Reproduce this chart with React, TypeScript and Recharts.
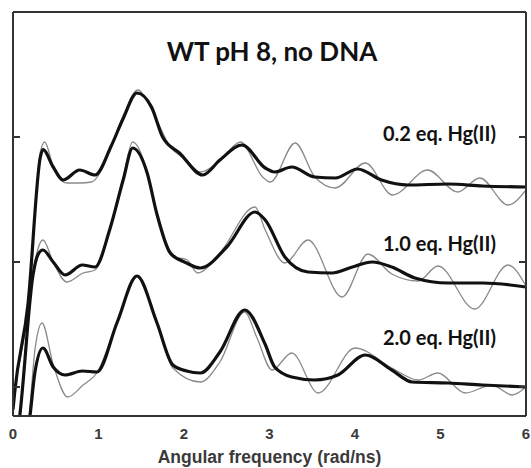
import { LineChart, Line, XAxis, YAxis, Label } from 'recharts'

// x = angular frequency (rad/ns), y = offset spectra (arb. units)
const thick02: [number, number][] = [
  [0, -0.18], [0.02, -0.04], [0.175, 0.66], [0.32, 1.84], [0.35, 1.9], [0.47, 1.76],
  [0.585, 1.656], [0.78, 1.736], [0.96, 1.696], [1.15, 1.93], [1.29, 2.15], [1.45, 2.352],
  [1.62, 2.24], [1.75, 2.0], [1.95, 1.87], [2.22, 1.696], [2.42, 1.816], [2.68, 1.936],
  [2.95, 1.752], [3.06, 1.72], [3.26, 1.76], [3.53, 1.68], [3.77, 1.672], [4.03, 1.744],
  [4.31, 1.656], [4.62, 1.616], [5.09, 1.624], [5.49, 1.608], [6, 1.6],
]
const thin02: [number, number][] = [
  [0, -0.2], [0.02, -0.06], [0.175, 0.62], [0.32, 1.88], [0.37, 1.96], [0.48, 1.74],
  [0.63, 1.632], [0.78, 1.632], [0.92, 1.64], [1.15, 1.93], [1.29, 2.17], [1.46, 2.376],
  [1.62, 2.22], [1.84, 1.92], [1.99, 1.832], [2.19, 1.72], [2.42, 1.81], [2.66, 1.96],
  [2.92, 1.68], [3.01, 1.64], [3.3, 1.952], [3.53, 1.68], [3.77, 1.592], [4.12, 1.792],
  [4.44, 1.536], [4.85, 1.736], [5.2, 1.56], [5.46, 1.672], [5.79, 1.456], [6, 1.576],
]
const thick10: [number, number][] = [
  [0, -0.6], [0.08, -0.224], [0.234, 0.896], [0.29, 1.056], [0.35, 1.096], [0.47, 1.0],
  [0.61, 0.896], [0.81, 0.976], [0.96, 0.96], [1.13, 1.256], [1.29, 1.66], [1.4, 1.912],
  [1.57, 1.71], [1.68, 1.392], [1.84, 1.072], [2.03, 0.992], [2.19, 0.952], [2.5, 1.12],
  [2.83, 1.4], [2.95, 1.336], [3.18, 1.04], [3.45, 0.92], [3.73, 0.912], [3.97, 0.96],
  [4.2, 1.0], [4.43, 0.96], [4.7, 0.872], [5.09, 0.832], [5.49, 0.832], [6, 0.8],
]
const thin10: [number, number][] = [
  [0, -0.65], [0.08, -0.26], [0.234, 0.9], [0.29, 1.1], [0.35, 1.176], [0.47, 1.0],
  [0.63, 0.84], [0.82, 0.912], [0.96, 0.936], [1.13, 1.256], [1.29, 1.68], [1.4, 1.96],
  [1.57, 1.72], [1.68, 1.39], [1.87, 1.04], [2.03, 1.02], [2.16, 0.912], [2.42, 1.072],
  [2.83, 1.44], [2.95, 1.256], [3.18, 0.992], [3.45, 1.176], [3.85, 0.72], [4.15, 1.064],
  [4.43, 0.904], [4.74, 0.848], [4.97, 0.968], [5.4, 0.624], [5.79, 0.976], [6, 0.808],
]
const thick20: [number, number][] = [
  [0, -1.2], [0.1, -0.74], [0.2, -0.224], [0.257, 0.12], [0.35, 0.312], [0.47, 0.16],
  [0.61, 0.096], [0.81, 0.128], [0.98, 0.12], [1.22, 0.52], [1.45, 0.888], [1.68, 0.52],
  [1.87, 0.176], [2.03, 0.128], [2.19, 0.112], [2.42, 0.28], [2.71, 0.616], [2.95, 0.34],
  [3.06, 0.16], [3.26, 0.08], [3.53, 0.056], [3.8, 0.096], [4.12, 0.256], [4.43, 0.136],
  [4.67, 0.04], [5.09, 0.032], [5.49, 0.016], [6, 0],
]
const thin20: [number, number][] = [
  [0, -1.3], [0.1, -0.8], [0.2, -0.15], [0.257, 0.3], [0.34, 0.512], [0.47, 0.18],
  [0.64, -0.08], [0.82, 0.016], [0.98, 0.112], [1.22, 0.52], [1.45, 0.888], [1.68, 0.52],
  [1.87, 0.152], [2.19, 0.04], [2.42, 0.2], [2.71, 0.6], [2.85, 0.4], [3.03, 0.136],
  [3.26, 0.272], [3.57, -0.048], [4.0, 0.312], [4.43, 0.152], [4.74, 0.056], [4.97, 0.112],
  [5.29, -0.048], [5.6, 0.016], [5.84, -0.064], [6, 0],
]

const xTicks = [0, 1, 2, 3, 4, 5, 6]
const innerTicks = [1, 2, 3, 4, 5]
const yTicks = [0, 1, 2]
const labels = ['0.2 eq. Hg(II)', '1.0 eq. Hg(II)', '2.0 eq. Hg(II)']

const LABEL_FONT = 'Lato, "Open Sans", sans-serif'
const AXIS_FONT = '"Liberation Sans", Arial, sans-serif'
const AXIS = '#333'

const toRows = (pts: [number, number][]) => pts.map(([x, y]) => ({ x, y }))

const series = [
  { key: 'g02', data: thin02, thick: false },
  { key: 'g10', data: thin10, thick: false },
  { key: 'g20', data: thin20, thick: false },
  { key: 'k02', data: thick02, thick: true },
  { key: 'k10', data: thick10, thick: true },
  { key: 'k20', data: thick20, thick: true },
]

export default function App() {
  return (
    <div style={{ position: 'absolute', left: 0, top: 0, width: 531, height: 468, background: '#fff' }}>
      <LineChart width={531} height={468} margin={{ top: 12, right: 5, bottom: 22, left: 13 }}>
        <XAxis
          xAxisId="x"
          dataKey="x"
          type="number"
          domain={[0, 6]}
          ticks={xTicks}
          allowDataOverflow
          height={30}
          tickLine={false}
          tickSize={0}
          tickMargin={12}
          axisLine={{ stroke: AXIS, strokeWidth: 2 }}
          tick={{ fill: '#3a3a3a', fontSize: 15, fontWeight: 700, fontFamily: AXIS_FONT }}
          interval={0}
        >
          <Label
            value="Angular frequency (rad/ns)"
            position="bottom"
            offset={5}
            style={{ fill: '#3a3a3a', fontSize: 17.5, fontWeight: 700, fontFamily: AXIS_FONT }}
          />
        </XAxis>
        <XAxis
          xAxisId="xb"
          dataKey="x"
          type="number"
          domain={[0, 6]}
          ticks={innerTicks}
          mirror
          axisLine={false}
          tickSize={7}
          tickLine={{ stroke: AXIS, strokeWidth: 2 }}
          tickFormatter={() => ''}
        />
        <XAxis
          xAxisId="xt"
          dataKey="x"
          type="number"
          orientation="top"
          domain={[0, 6]}
          ticks={innerTicks}
          mirror
          tickSize={7}
          axisLine={{ stroke: AXIS, strokeWidth: 2 }}
          tickLine={{ stroke: AXIS, strokeWidth: 2 }}
          tickFormatter={() => ''}
        />
        <YAxis
          yAxisId="y"
          type="number"
          domain={[-0.232, 3]}
          allowDataOverflow
          ticks={yTicks}
          mirror
          tickSize={7}
          axisLine={{ stroke: AXIS, strokeWidth: 2 }}
          tickLine={{ stroke: AXIS, strokeWidth: 2 }}
          tickFormatter={() => ''}
        />
        <YAxis
          yAxisId="yr"
          type="number"
          orientation="right"
          domain={[-0.232, 3]}
          allowDataOverflow
          ticks={yTicks}
          mirror
          tickSize={7}
          axisLine={{ stroke: AXIS, strokeWidth: 2 }}
          tickLine={{ stroke: AXIS, strokeWidth: 2 }}
          tickFormatter={() => ''}
        />
        {series.map((s) => (
          <Line
            key={s.key}
            xAxisId="x"
            yAxisId="y"
            data={toRows(s.data)}
            dataKey="y"
            type="monotone"
            stroke={s.thick ? '#111' : '#8a8a8a'}
            strokeWidth={s.thick ? 3.2 : 1.3}
            dot={false}
            activeDot={false}
            isAnimationActive={false}
          />
        ))}
      </LineChart>
      <svg
        width={531}
        height={468}
        style={{ position: 'absolute', left: 0, top: 0, pointerEvents: 'none' }}
      >
        <text x={272} y={61} textAnchor="middle" fontFamily={LABEL_FONT} fontSize={26} fontWeight={700} fill="#111">
          WT pH 8, no DNA
        </text>
        {labels.map((t, i) => (
          <text key={t} x={383} y={[141, 251, 345][i]} fontFamily={LABEL_FONT} fontSize={20} fontWeight={700} fill="#111">
            {t}
          </text>
        ))}
      </svg>
    </div>
  )
}
